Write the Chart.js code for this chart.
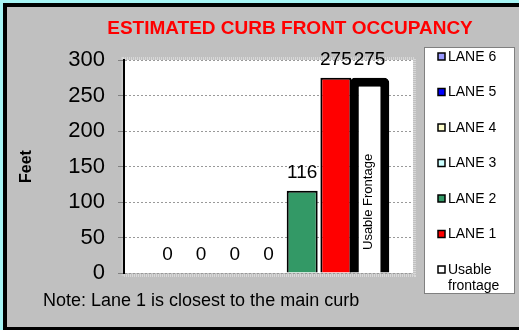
<!DOCTYPE html>
<html>
<head>
<meta charset="utf-8">
<title>Estimated Curb Front Occupancy</title>
<script src="https://cdn.jsdelivr.net/npm/chart.js@4/dist/chart.umd.min.js"></script>
<style>
  html, body { margin: 0; padding: 0; background: #a6f4f4; }
  canvas { display: block; }
</style>
</head>
<body>
<canvas id="curbChart" width="519" height="330"></canvas>
<script>
// lanes, drawn left to right
const laneNames = ["LANE 6", "LANE 5", "LANE 4", "LANE 3", "LANE 2", "LANE 1", "Usable frontage"];
const laneFeet = [0, 0, 0, 0, 116, 275, 275];
const laneColors = ["#9999ff", "#0000ff", "#ffffcc", "#ccffff", "#339966", "#ff0000", "#ffffff"];
const yMin = 0;
const yMax = 300;
const yStep = 50;

const FONT = "'Liberation Sans', Arial, sans-serif";

const datasets = laneNames.map(function (name, i) {
    const usable = i === laneNames.length - 1;
    return {
        label: name,
        data: [laneFeet[i]],
        backgroundColor: laneColors[i],
        borderColor: "#000000",
        borderWidth: usable ? 9 : 2,
        borderRadius: usable ? { topLeft: 5, topRight: 5 } : 0,
        barPercentage: usable ? 1.17 : 0.92,
        categoryPercentage: 0.816
    };
});

// grey panel, black frame and the white plot area
const framePlugin = {
    id: "frame",
    beforeDraw: function (chart) {
        const ctx = chart.ctx;
        const a = chart.chartArea;
        ctx.save();
        ctx.fillStyle = "#a6f4f4";
        ctx.fillRect(0, 0, chart.width, chart.height);
        ctx.fillStyle = "#000000";
        ctx.fillRect(3, 3, chart.width - 3, chart.height - 3);
        ctx.fillStyle = "#c0c0c0";
        ctx.fillRect(7, 7, chart.width - 7, chart.height - 10);

        ctx.fillStyle = "#ffffff";
        ctx.fillRect(a.left, a.top, a.right - a.left, a.bottom - a.top);
        ctx.strokeStyle = "#d8d8d8";
        ctx.lineWidth = 3;
        ctx.setLineDash([1, 1]);
        ctx.strokeRect(a.left - 1, a.top - 1.5, a.right - a.left + 2.5, a.bottom - a.top + 4);
        ctx.restore();
    }
};

// value labels over the bars and the caption inside the frontage bar
const labelPlugin = {
    id: "valueLabels",
    afterDatasetsDraw: function (chart) {
        const ctx = chart.ctx;
        ctx.save();
        ctx.fillStyle = "#000000";
        ctx.font = "19px " + FONT;
        ctx.textAlign = "center";
        ctx.textBaseline = "middle";
        chart.data.datasets.forEach(function (ds, i) {
            const bar = chart.getDatasetMeta(i).data[0];
            ctx.fillText(String(ds.data[0]), bar.x, bar.y - 18);
        });

        const last = chart.getDatasetMeta(chart.data.datasets.length - 1).data[0];
        ctx.translate(last.x - 1, chart.chartArea.bottom - 23);
        ctx.rotate(-Math.PI / 2);
        ctx.font = "13px " + FONT;
        ctx.textAlign = "left";
        ctx.fillText("Usable Frontage", 0, 0);
        ctx.restore();
    }
};

// title, note and the legend box on the right
const textPlugin = {
    id: "texts",
    afterDraw: function (chart) {
        const ctx = chart.ctx;
        ctx.save();
        ctx.textBaseline = "middle";

        ctx.fillStyle = "#ff0000";
        ctx.font = "bold 19px " + FONT;
        ctx.textAlign = "center";
        ctx.fillText("ESTIMATED CURB FRONT OCCUPANCY", 290, 29);

        ctx.fillStyle = "#000000";
        ctx.font = "18px " + FONT;
        ctx.textAlign = "left";
        ctx.fillText("Note: Lane 1 is closest to the main curb", 43, 301);

        ctx.fillStyle = "#ffffff";
        ctx.fillRect(424, 47, 91, 247);
        ctx.strokeStyle = "#808080";
        ctx.lineWidth = 1;
        ctx.strokeRect(424.5, 47.5, 90, 246);

        ctx.font = "14px " + FONT;
        chart.data.datasets.forEach(function (ds, i) {
            const y = 57 + i * 35.5;
            ctx.fillStyle = ds.backgroundColor;
            ctx.fillRect(438, y - 4, 7, 7);
            ctx.strokeStyle = "#000000";
            ctx.lineWidth = 1.5;
            ctx.strokeRect(438, y - 4, 7, 7);
            ctx.fillStyle = "#000000";
            const words = ds.label === "Usable frontage" ? ["Usable", "frontage"] : [ds.label];
            words.forEach(function (w, k) {
                ctx.fillText(w, 448, y + k * 16);
            });
        });
        ctx.restore();
    }
};

new Chart(document.getElementById("curbChart"), {
    type: "bar",
    data: { labels: [""], datasets: datasets },
    options: {
        responsive: false,
        animation: false,
        devicePixelRatio: 1,
        layout: { padding: { left: 10, right: 106, top: 60, bottom: 57 } },
        plugins: {
            legend: { display: false },
            title: { display: false },
            tooltip: { enabled: false }
        },
        scales: {
            x: { display: false },
            y: {
                min: yMin,
                max: yMax,
                ticks: {
                    stepSize: yStep,
                    color: "#000000",
                    padding: 13,
                    font: { family: FONT, size: 22 }
                },
                grid: {
                    color: "#999999",
                    tickLength: 6,
                    tickColor: "#808080",
                    tickBorderDash: []
                },
                border: { color: "#000000", width: 2, dash: [2, 2] },
                title: {
                    display: true,
                    text: "Feet",
                    color: "#000000",
                    font: { family: FONT, size: 16, weight: "bold" },
                    padding: { top: 7, bottom: 0 }
                },
                afterFit: function (scale) { scale.width = 114; }
            }
        }
    },
    plugins: [framePlugin, labelPlugin, textPlugin]
});
</script>
</body>
</html>
